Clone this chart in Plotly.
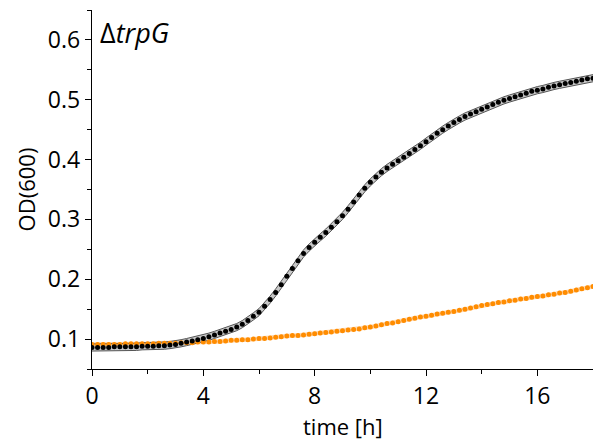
import plotly.graph_objects as go

time_h = [round(i * 0.2, 1) for i in range(91)]

od_trpG = [
    0.086, 0.086, 0.086, 0.086, 0.087, 0.087, 0.087, 0.087, 0.087, 0.088,
    0.088, 0.088, 0.089, 0.089, 0.090, 0.091, 0.093, 0.095, 0.097, 0.099,
    0.101, 0.104, 0.107, 0.110, 0.113, 0.116, 0.120, 0.125, 0.131, 0.138,
    0.145, 0.155, 0.166, 0.178, 0.191, 0.205, 0.218, 0.231, 0.243, 0.253,
    0.262, 0.270, 0.278, 0.287, 0.296, 0.306, 0.317, 0.329, 0.341, 0.352,
    0.362, 0.371, 0.379, 0.386, 0.392, 0.398, 0.404, 0.410, 0.417, 0.423,
    0.430, 0.437, 0.444, 0.450, 0.456, 0.462, 0.467, 0.472, 0.476, 0.480,
    0.484, 0.488, 0.492, 0.496, 0.499, 0.502, 0.505, 0.508, 0.511, 0.514,
    0.516, 0.518, 0.521, 0.523, 0.525, 0.527, 0.529, 0.531, 0.533, 0.535,
    0.536,
]

od_orange = [
    0.091, 0.091, 0.091, 0.091, 0.091, 0.091, 0.092, 0.092, 0.092, 0.092,
    0.092, 0.092, 0.093, 0.093, 0.093, 0.093, 0.094, 0.094, 0.094, 0.095,
    0.095, 0.095, 0.096, 0.096, 0.097, 0.098, 0.098, 0.099, 0.099, 0.100,
    0.101, 0.101, 0.102, 0.103, 0.104, 0.105, 0.106, 0.106, 0.107, 0.108,
    0.109, 0.110, 0.111, 0.112, 0.113, 0.114, 0.115, 0.116, 0.117, 0.119,
    0.120, 0.122, 0.124, 0.126, 0.127, 0.129, 0.131, 0.133, 0.135, 0.137,
    0.138, 0.140, 0.142, 0.143, 0.145, 0.146, 0.148, 0.150, 0.152, 0.154,
    0.156, 0.158, 0.159, 0.161, 0.162, 0.164, 0.165, 0.167, 0.168, 0.170,
    0.171, 0.172, 0.174, 0.175, 0.177, 0.178, 0.180, 0.182, 0.184, 0.186,
    0.188,
]

sd_trpG = 0.006
sd_orange = 0.003

x_ticks = [0, 4, 8, 12, 16]
y_ticks = [0.1, 0.2, 0.3, 0.4, 0.5, 0.6]

FONT = "Open Sans"

fig = go.Figure()

# orange band
fig.add_trace(go.Scatter(x=time_h, y=[v + sd_orange for v in od_orange], mode="lines",
                         line=dict(color="rgba(255,160,60,0.6)", width=0.5), showlegend=False, hoverinfo="skip"))
fig.add_trace(go.Scatter(x=time_h, y=[v - sd_orange for v in od_orange], mode="lines",
                         line=dict(color="rgba(255,160,60,0.6)", width=0.5), fill="tonexty",
                         fillcolor="rgba(255,190,120,0.45)", showlegend=False, hoverinfo="skip"))
# black band
fig.add_trace(go.Scatter(x=time_h, y=[v + sd_trpG for v in od_trpG], mode="lines",
                         line=dict(color="#555555", width=1), showlegend=False, hoverinfo="skip"))
fig.add_trace(go.Scatter(x=time_h, y=[v - sd_trpG for v in od_trpG], mode="lines",
                         line=dict(color="#555555", width=1), fill="tonexty",
                         fillcolor="#c8c8c8", showlegend=False, hoverinfo="skip"))

fig.add_trace(go.Scatter(x=time_h, y=od_orange, mode="markers",
                         marker=dict(color="#ff8c00", size=5, line=dict(width=0)), showlegend=False))
fig.add_trace(go.Scatter(x=time_h, y=od_trpG, mode="markers",
                         marker=dict(color="black", size=5, line=dict(width=0)), showlegend=False))

axis_common = dict(
    showline=True, linecolor="black", linewidth=1.4, showgrid=False, zeroline=False,
    ticks="outside", ticklen=6, tickwidth=1.4, tickcolor="black",
    tickfont=dict(family=FONT, size=23, color="black"),
    mirror=False,
)

fig.update_xaxes(**axis_common, range=[0, 18], tickvals=x_ticks,
                 ticktext=[str(v) for v in x_ticks],
                 minor=dict(dtick=2, tick0=0, ticks="outside", ticklen=4, tickwidth=1.4, tickcolor="black"))
fig.update_yaxes(**axis_common, range=[0.05, 0.65], tickvals=y_ticks,
                 ticktext=[f"{v:.1f}" for v in y_ticks],
                 minor=dict(dtick=0.05, tick0=0.05, ticks="outside", ticklen=4, tickwidth=1.4, tickcolor="black"),
                 title=dict(text="OD(600)", font=dict(family=FONT, size=22, color="black"), standoff=6))

# x-axis title placed as annotation to match reference spacing
fig.add_annotation(x=0.5, y=-57 / 359, xref="paper", yref="paper", xanchor="center", yanchor="middle",
                   text="time [h]", showarrow=False, borderpad=0,
                   font=dict(family=FONT, size=22, color="black"))

fig.add_annotation(x=0.012, y=0.995, xref="paper", yref="paper", xanchor="left", yanchor="top",
                   text="Δ<i>trpG</i>", showarrow=False,
                   font=dict(family=FONT, size=27, color="black"))

fig.update_layout(
    width=593, height=440,
    margin=dict(l=92, r=0, t=10, b=71),
    paper_bgcolor="white", plot_bgcolor="white",
)

fig.write_html("out.html")
